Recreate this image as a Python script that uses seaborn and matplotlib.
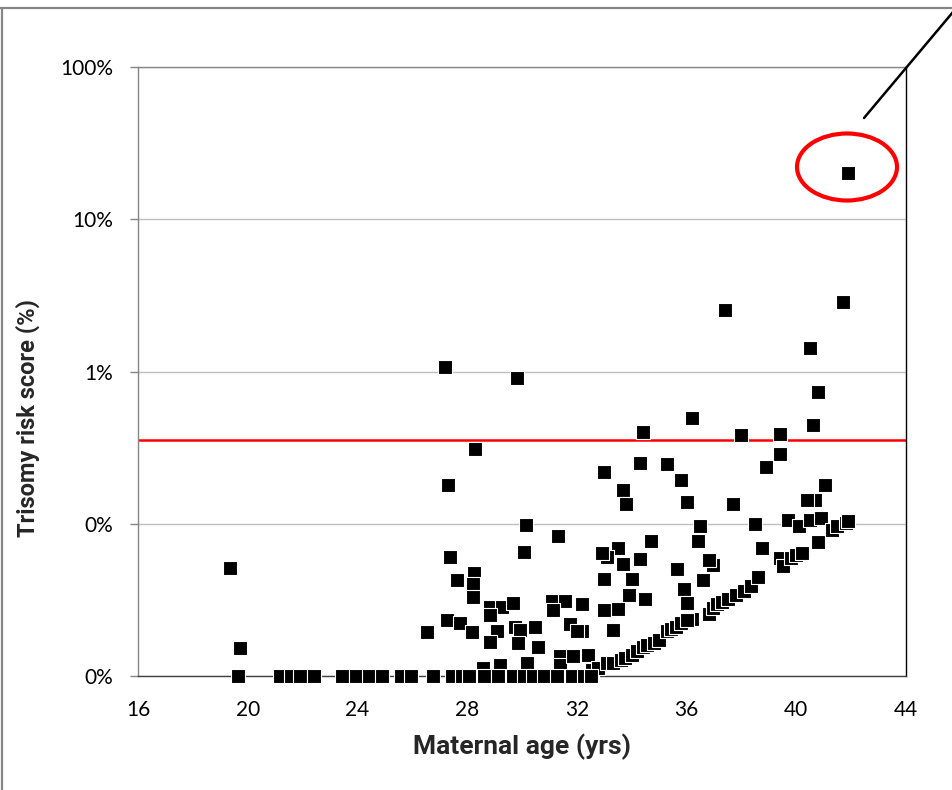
import numpy as np
import pandas as pd
import matplotlib
matplotlib.use("Agg")
import matplotlib.pyplot as plt
from matplotlib.patches import Ellipse
from matplotlib.lines import Line2D
from matplotlib.ticker import FixedLocator, FuncFormatter, NullLocator
import seaborn as sns

# Data (maternal age in years, trisomy risk in %)
high_age = [41.9, 41.7, 37.4, 40.5, 40.8, 27.2, 29.8, 36.2, 40.6, 34.4, 38.0, 39.4, 28.3, 39.4, 27.3]
high_risk = [20.1, 2.86, 2.54, 1.43, 0.733, 1.07, 0.906, 0.495, 0.445, 0.401, 0.383, 0.388, 0.310, 0.287, 0.180]

mid_age = [33.0, 34.3, 35.3, 35.8, 38.9, 33.7, 41.05, 33.8, 36.0, 37.7, 40.7, 40.4, 36.5, 38.5,
           39.7, 40.1, 40.5, 40.9, 40.8, 30.15, 30.07, 31.3, 34.7, 36.4, 38.75, 33.5, 33.1, 32.9,
           34.3, 33.7, 35.65, 36.96, 36.8, 34.0, 33.0, 36.6, 35.9, 33.9, 34.5, 36.0, 32.2, 33.0,
           33.5, 33.3, 36.2, 32.2, 32.4]
mid_risk = [0.219, 0.251, 0.247, 0.194, 0.236, 0.167, 0.180, 0.135, 0.139, 0.135, 0.143, 0.143, 0.0966, 0.0996,
            0.106, 0.0966, 0.106, 0.109, 0.0759, 0.0982, 0.0652, 0.0831, 0.0771, 0.0771, 0.0693, 0.0693, 0.0605, 0.0643,
            0.0587, 0.0544, 0.0505, 0.0536, 0.0578, 0.0434, 0.0434, 0.0427, 0.0373, 0.0340, 0.0321, 0.0302, 0.0297, 0.0271,
            0.0275, 0.0200, 0.0237, 0.0198, 0.0137]

low_age = [19.35, 19.72, 27.37, 27.63, 28.25, 28.21, 28.21, 27.26, 27.74, 28.18, 26.54, 28.83, 29.27, 29.67,
           28.83, 29.09, 29.74, 29.93, 30.47, 28.83, 29.85, 30.58, 31.09, 31.57, 31.13, 31.75, 32.0, 30.18,
           29.2, 28.58, 31.38, 31.38, 31.86, 32.55, 32.77]
low_risk = [0.0512, 0.0153, 0.0605, 0.0427, 0.0475, 0.0402, 0.0330, 0.0233, 0.0223, 0.0194, 0.0194, 0.0284, 0.0284, 0.0302,
            0.0252, 0.0198, 0.0210, 0.0200, 0.0210, 0.0167, 0.0165, 0.0155, 0.0311, 0.0311, 0.0271, 0.0220, 0.0198, 0.0122,
            0.0118, 0.0113, 0.0135, 0.0118, 0.0135, 0.0110, 0.0113]

curve_age = [33.1, 33.3, 33.6, 33.75, 34.0, 34.2, 34.4, 34.55, 34.8, 35.0, 35.3, 35.45, 35.6, 35.8, 36.0,
             36.8, 36.95, 37.1, 37.3, 37.5, 37.8, 38.1, 38.35, 38.6, 39.4, 39.5, 39.8, 40.0, 40.2,
             41.3, 41.5, 41.8, 41.9]
curve_risk = [0.0122, 0.0122, 0.0127, 0.0131, 0.0137, 0.0145, 0.0155, 0.0160, 0.0165, 0.0172, 0.0198, 0.0205, 0.0210, 0.0223, 0.0235,
              0.0255, 0.0280, 0.0297, 0.0306, 0.0321, 0.0340, 0.0362, 0.0390, 0.0447, 0.0596, 0.0528, 0.0596, 0.0624, 0.0643,
              0.0910, 0.0966, 0.101, 0.104]

zero_age = [19.65, 21.18, 21.58, 21.91, 22.42, 23.44, 23.95, 24.42, 24.9, 25.59, 25.95, 26.75, 27.45, 27.81,
            28.07, 28.61, 29.12, 29.67, 30.07, 30.4, 30.8, 31.28, 31.82, 32.26, 32.5]
zero_risk = [0.01] * len(zero_age)

cutoff = 0.357  # 1:280

df = pd.DataFrame({
    "age": high_age + mid_age + low_age + curve_age + zero_age,
    "risk": high_risk + mid_risk + low_risk + curve_risk + zero_risk,
})

sns.set_theme(style="white")
plt.rcParams["font.family"] = ["Lato", "DejaVu Sans"]

fig = plt.figure(figsize=(9.53, 7.90), dpi=100)
ax = fig.add_axes([138 / 953, 114 / 790, 768 / 953, 609 / 790])

ax.set_yscale("log")
ax.set_ylim(0.01, 100)
ax.set_xlim(16, 44)

ax.yaxis.set_major_locator(FixedLocator([0.01, 0.1, 1, 10, 100]))
ax.yaxis.set_minor_locator(NullLocator())
ax.yaxis.set_major_formatter(FuncFormatter(lambda v, p: "{:.0f}%".format(v)))
ax.set_xticks(np.arange(16, 45, 4))

ax.grid(axis="y", color="#BFBFBF", linewidth=1.0)
ax.grid(axis="x", visible=False)
ax.set_axisbelow(True)

ax.axhline(cutoff, color="#FF0000", linewidth=1.8, zorder=2)

sns.scatterplot(data=df, x="age", y="risk", marker="s", color="black", edgecolor="white",
                linewidth=0.8, s=100, ax=ax, zorder=3, clip_on=False)

for side in ["left", "top"]:
    ax.spines[side].set_color("#868686")
    ax.spines[side].set_linewidth(1.0)
ax.spines["bottom"].set_color("#404040")
ax.spines["right"].set_color("black")
ax.spines["bottom"].set_linewidth(1.0)
ax.spines["right"].set_linewidth(1.0)

ax.tick_params(axis="y", which="major", left=True, length=6, width=1, color="#868686",
               pad=12, labelsize=15, labelcolor="black")
ax.tick_params(axis="x", which="major", bottom=False, length=0, pad=17, labelsize=15, labelcolor="black")

ax.set_xlabel("Maternal age (yrs)", family=["Roboto", "DejaVu Sans"], size=19, weight="bold", labelpad=10)
ax.set_ylabel("Trisomy risk score (%)", family=["Roboto", "DejaVu Sans"], size=17, weight="bold")
ax.yaxis.set_label_coords(-0.128, 0.424)

# red circle around the outlier and pointer line
fig.patches.append(Ellipse((847 / 953, 1 - 167 / 790), 100 / 953, 67 / 790, transform=fig.transFigure,
                           fill=False, edgecolor="#FF0000", linewidth=3))
fig.lines.append(Line2D([864 / 953, 1.0], [1 - 118 / 790, 1 - 12 / 790], transform=fig.transFigure,
                        color="black", linewidth=1.8))

# frame of the picture
fig.lines.append(Line2D([0, 1], [1 - 8 / 790, 1 - 8 / 790], transform=fig.transFigure, color="#868686", linewidth=1.6))
fig.lines.append(Line2D([2 / 953, 2 / 953], [0, 1 - 8 / 790], transform=fig.transFigure, color="#868686", linewidth=1.6))

legend = ax.get_legend()
if legend is not None:
    legend.remove()

fig.savefig("out.png", dpi=100)
plt.close(fig)
